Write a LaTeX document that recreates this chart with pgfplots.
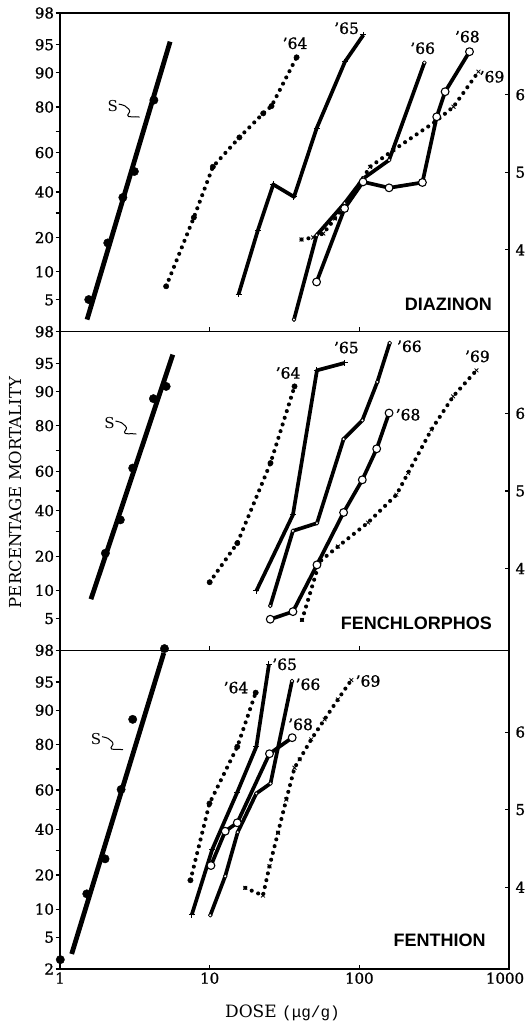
\documentclass[border=0pt]{standalone}
\usepackage{fontspec}
\setmainfont{DejaVu Serif}
\newfontfamily\tickfont{DejaVu Serif}[FakeBold=1.2]
\newfontfamily\panelfont{Liberation Sans}
\newfontfamily\monofont{Liberation Mono}
\usepackage{pgfplots}
\pgfplotsset{compat=1.18}
\pgfplotsset{
  every axis/.append style={
    xmode=log, xmin=1, xmax=1000, ymin=2.9463, ymax=7.0537,
    scale only axis, width=449pt, height=318.67pt, clip=false,
    xtick={10,100}, xticklabels={}, xminorticks=false, yminorticks=false,
    xtick pos=bottom, ytick pos=left,
    xtick align=inside, ytick align=outside,
    major tick length=4.5pt,
    axis line style={line width=1.4pt},
    every tick/.style={black, line width=1.1pt},
    tick label style={font=\tickfont\fontsize{15}{17}\selectfont},
    yticklabel style={xshift=2pt},
    ytick={3.3551,3.7184,4.1584,4.4756,4.7467,5,5.2533,5.5244,5.8416,6.2816,6.6449,7.0537},
    yticklabels={5,10,20,,40,,60,,80,90,95,98},
    extra y ticks={4,5,6}, extra y tick labels={4,5,6},
    extra y tick style={ytick pos=right, yticklabel pos=right, ytick align=inside,
      yticklabel style={xshift=1pt}},
  },
}
\tikzset{
  solser/.style={black, line width=3.7pt, line join=round},
  dotser/.style={black, line width=4.1pt, line cap=round, dash pattern=on 0pt off 7pt},
  sline/.style={black, line width=4.8pt, line cap=butt},
  yr/.style={font=\tickfont\fontsize{15.5}{17}\selectfont},
  pname/.style={font=\panelfont\bfseries\fontsize{18}{20}\selectfont},
  slab/.style={font=\fontsize{15}{16}\selectfont},
}
\pgfplotsset{
  spts/.style={only marks, mark=*, mark size=4.2pt, mark options={black, fill=black}},
  mA/.style={dotser, mark=*, mark size=2.7pt, mark options={solid, fill=black, line width=0.4pt}},
  mB/.style={solser, mark=+, mark size=3pt, mark options={solid, line width=1pt}},
  mC/.style={solser, mark=*, mark size=1.9pt, mark options={solid, fill=white, draw=black, line width=0.8pt}},
  mD/.style={solser, mark=*, mark size=3.9pt, mark options={solid, fill=white, draw=black, line width=1.1pt}},
  mE/.style={dotser, mark=x, mark size=2.5pt, mark options={solid, line width=0.8pt}},
}
\begin{document}
\begin{tikzpicture}
% ---------------- DIAZINON (top) ----------------
\begin{axis}[at={(0pt,637.33pt)}]
\addplot[sline] coordinates {(1.516,3.102) (5.44,6.684)};
\addplot[spts] coordinates {(1.556,3.36) (2.085,4.09) (2.63,4.676) (3.14,5.011) (4.24,5.931)};
\addplot[mA] coordinates {(5.12,3.531) (7.84,4.418) (10.5,5.071) (15.8,5.45) (22.8,5.76) (25.9,5.854) (38.1,6.482)};
\addplot[mB] coordinates {(15.6,3.428) (21,4.254) (26.6,4.844) (36.6,4.684) (51.8,5.566) (80.2,6.426) (106.4,6.77)};
\addplot[mE] coordinates {(41.1,4.134) (49.2,4.16) (57.4,4.211) (68.8,4.405) (91.2,4.728) (117.9,5.071) (168.8,5.286) (320.8,5.651) (425.6,5.845) (625,6.297)};
\addplot[mC] coordinates {(36.6,3.102) (51.8,4.19) (79.7,4.602) (106.4,4.921) (158,5.157) (272,6.413)};
\addplot[mD] coordinates {(51.8,3.587) (79.7,4.534) (105.9,4.877) (158,4.80) (263.9,4.869) (328.9,5.716) (374.3,6.039) (544.5,6.555)};
\node[yr] at (axis cs:37.2,6.663) {’64};
\node[yr] at (axis cs:82.2,6.857) {’65};
\node[yr] at (axis cs:265,6.599) {’66};
\node[yr] at (axis cs:527,6.748) {’68};
\node[yr] at (axis cs:770,6.232) {’69};
\node[pname] at (axis cs:393.9,3.299) {DIAZINON};
\node[slab] at (axis cs:2.25,5.854) {S};
\draw[line width=1pt] (axis cs:2.25,5.854) ++(6pt,2pt) .. controls +(5pt,-1pt) and +(-2pt,3pt) .. ++(10pt,-5pt) .. controls +(2pt,-3pt) and +(2pt,4pt) .. ++(-1pt,-6pt) .. controls +(-1pt,-3pt) and +(-5pt,1pt) .. ++(12pt,-2pt);
\end{axis}
% ---------------- FENCHLORPHOS (middle) ----------------
\begin{axis}[at={(0pt,318.67pt)}]
\addplot[sline] coordinates {(1.61,3.605) (5.67,6.757)};
\addplot[spts] coordinates {(2.01,4.198) (2.53,4.628) (3.06,5.295) (4.21,6.19) (5.12,6.348)};
\addplot[mA] coordinates {(10,3.824) (15.3,4.328) (25.5,5.36) (36.9,6.348)};
\addplot[mB] coordinates {(20.5,3.712) (36,4.693) (52.1,6.555) (79.7,6.65)};
\addplot[mE] coordinates {(41.4,3.338) (54.3,4.09) (72,4.284) (114.3,4.593) (176.8,4.951) (211.6,5.231) (303,5.79) (423.5,6.219) (606,6.555)};
\addplot[mC] coordinates {(25.4,3.519) (36,4.486) (52.1,4.585) (78.5,5.669) (104.7,5.91) (131.9,6.405) (159.6,6.908)};
\addplot[mD] coordinates {(25.4,3.347) (36,3.445) (52.1,4.048) (78.5,4.723) (104.7,5.144) (130.6,5.544) (158,6.005)};
\node[yr] at (axis cs:33.4,6.521) {’64};
\node[yr] at (axis cs:81.9,6.848) {’65};
\node[yr] at (axis cs:216,6.864) {’66};
\node[yr] at (axis cs:211.6,5.983) {’68};
\node[yr] at (axis cs:615,6.735) {’69};
\node[pname] at (axis cs:240.5,3.295) {FENCHLORPHOS};
\node[slab] at (axis cs:2.14,5.876) {S};
\draw[line width=1pt] (axis cs:2.14,5.876) ++(6pt,2pt) .. controls +(5pt,-1pt) and +(-2pt,3pt) .. ++(10pt,-5pt) .. controls +(2pt,-3pt) and +(2pt,4pt) .. ++(-1pt,-6pt) .. controls +(-1pt,-3pt) and +(-5pt,1pt) .. ++(12pt,-2pt);
\node[rotate=90, font=\fontsize{16.5}{18}\selectfont] at (rel axis cs:-0.1,0.495) {PERCENTAGE MORTALITY};
\end{axis}
% ---------------- FENTHION (bottom) ----------------
\begin{axis}[at={(0pt,0pt)},
  xtick={1,10,100,1000}, xticklabels={1,10,100,{\kern-8pt 1000}},
  ytick={2.9463,3.3551,3.7184,4.1584,4.4756,4.7467,5,5.2533,5.5244,5.8416,6.2816,6.6449,7.0537},
  yticklabels={2,5,10,20,,40,,60,,80,90,95,98}]
\addplot[sline] coordinates {(1.197,3.14) (4.94,7.02)};
\addplot[spts] coordinates {(1.005,3.067) (1.51,3.915) (2.0,4.366) (2.56,5.26) (3.06,6.164) (4.99,7.076)};
\addplot[mA] coordinates {(7.44,4.09) (9.97,5.08) (15.3,5.811) (20.3,6.508)};
\addplot[mB] coordinates {(7.6,3.648) (10.4,4.486) (15.3,5.226) (20.5,5.811) (24.9,6.873)};
\addplot[mE] coordinates {(17.3,3.992) (22.7,3.893) (25.1,4.271) (28.6,4.702) (32.5,5.131) (36.9,5.54) (39.9,5.648) (47.7,5.906) (58.6,6.164) (72,6.422) (88.4,6.671)};
\addplot[mC] coordinates {(10.1,3.639) (12.7,4.142) (15.4,4.71) (20.5,5.209) (25.5,5.338) (35.5,6.658)};
\addplot[mD] coordinates {(10.2,4.28) (12.7,4.722) (15.3,4.831) (25.1,5.721) (35.6,5.928)};
\node[yr] at (axis cs:15.0,6.573) {’64};
\node[yr] at (axis cs:31.7,6.873) {’65};
\node[yr] at (axis cs:45.4,6.615) {’66};
\node[yr] at (axis cs:40.5,6.099) {’68};
\node[yr] at (axis cs:114.3,6.658) {’69};
\node[pname] at (axis cs:344.5,3.316) {FENTHION};
\node[slab] at (axis cs:1.74,5.915) {S};
\draw[line width=1pt] (axis cs:1.74,5.915) ++(6pt,2pt) .. controls +(5pt,-1pt) and +(-2pt,3pt) .. ++(10pt,-5pt) .. controls +(2pt,-3pt) and +(2pt,4pt) .. ++(-1pt,-6pt) .. controls +(-1pt,-3pt) and +(-5pt,1pt) .. ++(12pt,-2pt);
\node[font=\fontsize{17}{19}\selectfont] at (rel axis cs:0.4955,0) [yshift=-44pt] {DOSE {\monofont\fontsize{16}{18}\selectfont(μg/g)}};
\end{axis}
\pgfresetboundingbox
\useasboundingbox (-60pt,-55pt) rectangle (465pt,969pt);
\end{tikzpicture}
\end{document}
